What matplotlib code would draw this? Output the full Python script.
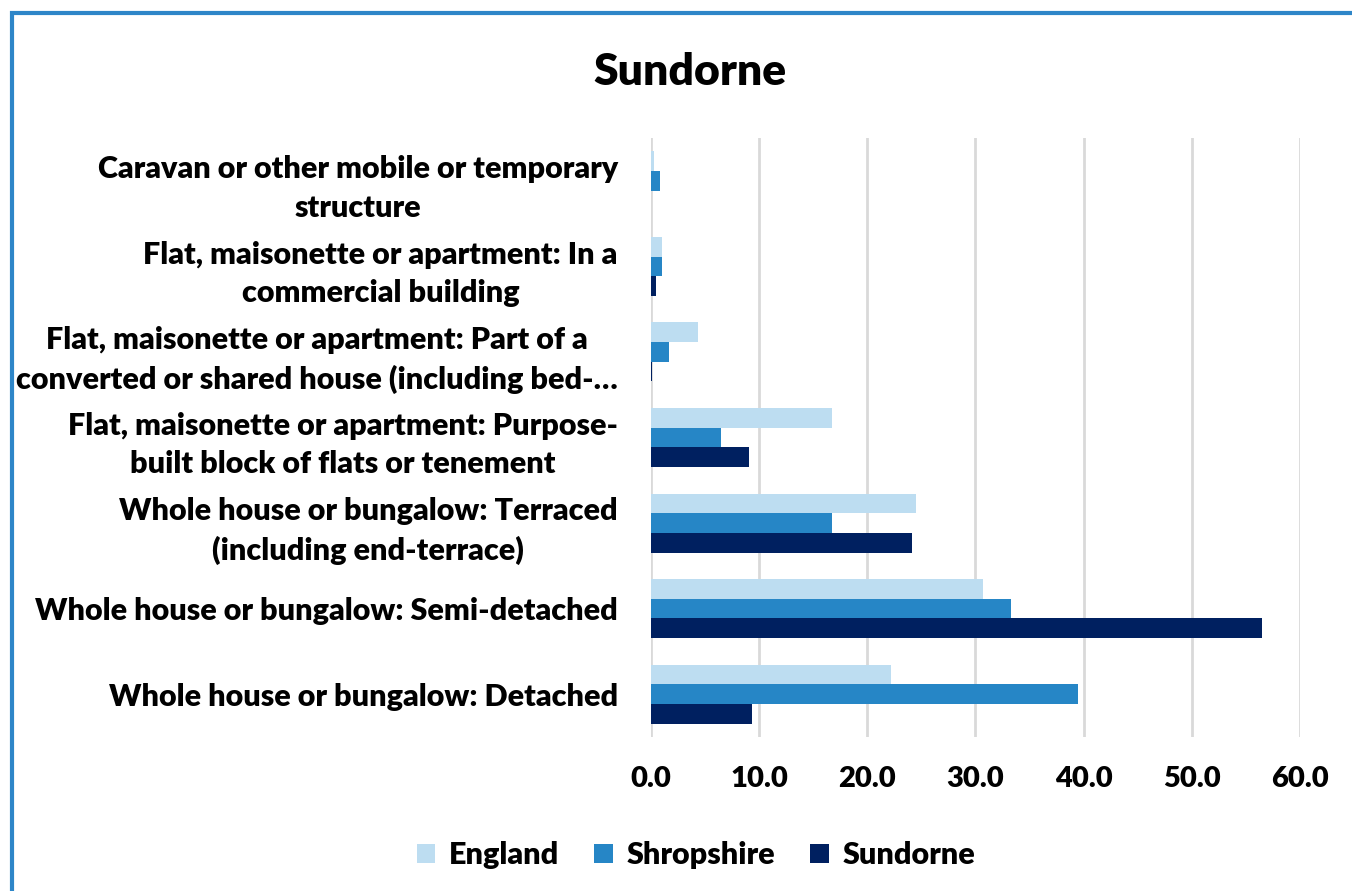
import numpy as np
import matplotlib.pyplot as plt
from matplotlib.patches import Rectangle

plt.rcParams['font.family'] = ['Lato', 'DejaVu Sans']
plt.rcParams['font.weight'] = 'heavy'

# Kategorien (von unten nach oben, wie in Excel)
kategorien = [
    'Whole house or bungalow: Detached',
    'Whole house or bungalow: Semi-detached',
    'Whole house or bungalow: Terraced\n(including end-terrace)',
    'Flat, maisonette or apartment: Purpose-\nbuilt block of flats or tenement',
    'Flat, maisonette or apartment: Part of a\nconverted or shared house (including bed-\u2026',
    'Flat, maisonette or apartment: In a\ncommercial building',
    'Caravan or other mobile or temporary\nstructure',
]

# Werte in Prozent
england = [22.2, 30.7, 24.5, 16.7, 4.3, 1.0, 0.3]
shropshire = [39.5, 33.3, 16.7, 6.5, 1.7, 1.0, 0.8]
sundorne = [9.3, 56.5, 24.1, 9.1, 0.1, 0.5, 0.0]

xticks = [0, 10, 20, 30, 40, 50, 60]

farben = {'England': '#BDDDF1', 'Shropshire': '#2686C6', 'Sundorne': '#002060'}

fig = plt.figure(figsize=(13.52, 8.91), dpi=100)
ax = fig.add_axes([651/1352, 1-737/891, 649/1352, 599/891])

y = np.arange(len(kategorien))
h = 0.23
ax.barh(y + h, england, height=h, color=farben['England'], label='England', zorder=3)
ax.barh(y, shropshire, height=h, color=farben['Shropshire'], label='Shropshire', zorder=3)
ax.barh(y - h, sundorne, height=h, color=farben['Sundorne'], label='Sundorne', zorder=3)

ax.set_xlim(0, 60)
ax.set_ylim(-0.5, len(kategorien) - 0.5)
ax.set_xticks(xticks)
ax.set_xticklabels([f'{v:.1f}' for v in xticks], fontsize=21)
ax.set_yticks(y)
ax.set_yticklabels(kategorien, fontsize=22, multialignment='center', linespacing=1.45)
ax.tick_params(axis='both', length=0)
ax.tick_params(axis='x', pad=21)
ax.tick_params(axis='y', pad=24)

ax.grid(axis='x', color='#D9D9D9', linewidth=2, zorder=0)
for s in ax.spines.values():
    s.set_visible(False)

fig.text(690/1352, 1-72/891, 'Sundorne', fontsize=32,
         ha='center', va='center')

leg = fig.legend(loc='center', bbox_to_anchor=(696/1352, 1-855/891), ncol=3,
                 frameon=False, fontsize=22, handlelength=0.6, handleheight=0.6,
                 handletextpad=0.45, columnspacing=1.15)

# blauer Rahmen (rechts und unten abgeschnitten)
fig.patches.append(Rectangle((12/1352, -0.1), 1.2, 1-13/891+0.1, transform=fig.transFigure,
                             fill=False, edgecolor='#2E86C8', linewidth=3))

plt.savefig('out.png', dpi=100)
